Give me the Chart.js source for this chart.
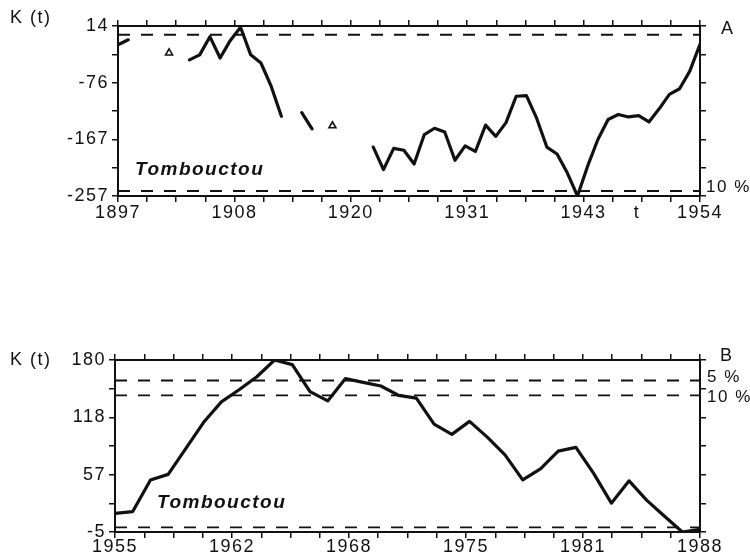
<!DOCTYPE html>
<html>
<head>
<meta charset="utf-8">
<title>Tombouctou K(t)</title>
<script src="https://cdn.jsdelivr.net/npm/chart.js@4.4.1/dist/chart.umd.min.js"></script>
<style>
  body { margin: 0; background: #fff; }
  canvas { position: absolute; left: 0; }
  #chartA { top: 0; }
  #chartB { top: 330px; }
</style>
</head>
<body>
<canvas id="chartA" width="750" height="235"></canvas>
<canvas id="chartB" width="750" height="225"></canvas>
<script>
// Panel A : 1897-1954
const yearsA = [1897, 1898, 1899, 1900, 1901, 1902, 1903, 1904, 1905, 1906,
  1907, 1908, 1909, 1910, 1911, 1912, 1913, 1914, 1915, 1916,
  1917, 1918, 1919, 1920, 1921, 1922, 1923, 1924, 1925, 1926,
  1927, 1928, 1929, 1930, 1931, 1932, 1933, 1934, 1935, 1936,
  1937, 1938, 1939, 1940, 1941, 1942, 1943, 1944, 1945, 1946,
  1947, 1948, 1949, 1950, 1951, 1952, 1953, 1954];
const valuesA = [-16, -8, null, null, null, null, null, -40, -32, -3,
  -37, -9, 12, -32, -45, -82, -130, null, -124, -150,
  null, null, null, null, null, -179, -215, -181, -184, -206,
  -159, -149, -155, -200, -177, -186, -144, -162, -140, -98,
  -97, -133, -179, -190, -220, -257, -209, -167, -135, -127,
  -131, -129, -139, -118, -95, -86, -58, -15];
const triYearsA = [1902, 1918];
const triValuesA = [-29, -145];
const levelsA = [0, -249];
const xLabelsA = ["1897", "1908", "1920", "1931", "1943", "1954"];
const yLabelsA = ["14", "-76", "-167", "-257"];

// Panel B : 1955-1988
const yearsB = [1955, 1956, 1957, 1958, 1959, 1960, 1961, 1962, 1963, 1964,
  1965, 1966, 1967, 1968, 1969, 1970, 1971, 1972, 1973, 1974,
  1975, 1976, 1977, 1978, 1979, 1980, 1981, 1982, 1983, 1984,
  1985, 1986, 1987, 1988];
const valuesB = [15, 17, 51, 57, 85, 113, 135, 148, 162, 180,
  175, 146, 136, 160, 156, 152, 142, 139, 111, 100,
  114, 97, 78, 51, 63, 82, 86, 58, 26, 50,
  29, 12, -5, -2];
const levelsB = [158, 142, 0];
const xLabelsB = ["1955", "1962", "1968", "1975", "1981", "1988"];
const yLabelsB = ["180", "118", "57", "-5"];

const INK = "#111";
const tickFont = { family: "Liberation Sans, Arial, sans-serif", size: 18 };

const spacing = {
  id: "spacing",
  beforeDraw(chart) {
    chart.ctx.letterSpacing = "1.5px";
  },
};

const notes = {
  id: "notes",
  afterDraw(chart, args, opts) {
    const ctx = chart.ctx;
    ctx.save();
    ctx.fillStyle = INK;
    ctx.textBaseline = "middle";
    (opts.items || []).forEach((item) => {
      ctx.font = item.font;
      ctx.textAlign = item.align || "left";
      ctx.fillText(item.text, item.x, item.y);
    });
    ctx.restore();
  },
};

const evenTicks = (min, max, count) =>
  Array.from({ length: count + 1 }, (_, i) => min + (i * (max - min)) / count);

const axisGrid = { drawOnChartArea: false, drawTicks: true, tickLength: 6, color: INK, lineWidth: 1.5 };
const axisBorder = { display: true, color: INK, width: 2 };

const makePanel = (canvas, cfg) => {
  const xTicks = evenTicks(cfg.xMin, cfg.xMax, 20);
  const yTicks = evenTicks(cfg.yMax, cfg.yMin, 6);
  const setX = (scale) => { scale.ticks = xTicks.map((value) => ({ value })); };
  const setY = (scale) => { scale.ticks = yTicks.map((value) => ({ value })); };

  const datasets = [
    {
      type: "line",
      data: cfg.years.map((year, i) => ({ x: year, y: cfg.values[i] })),
      borderColor: INK,
      borderWidth: 3.2,
      pointRadius: 0,
      tension: 0,
      spanGaps: false,
      borderJoinStyle: "round",
      borderCapStyle: "round",
    },
    ...cfg.levels.map((level) => ({
      type: "line",
      data: [{ x: cfg.xMin, y: level }, { x: cfg.xMax, y: level }],
      borderColor: INK,
      borderWidth: 1.9,
      borderDash: [12, 11],
      pointRadius: 0,
    })),
  ];
  if (cfg.triYears) {
    datasets.push({
      type: "scatter",
      data: cfg.triYears.map((year, i) => ({ x: year, y: cfg.triValues[i] })),
      pointStyle: "triangle",
      pointRadius: 4,
      borderColor: INK,
      borderWidth: 1.6,
      backgroundColor: "#fff",
    });
  }

  return new Chart(canvas, {
    type: "line",
    data: { datasets },
    options: {
      responsive: false,
      animation: false,
      layout: { padding: 0 },
      plugins: { legend: { display: false }, tooltip: { enabled: false }, notes: { items: cfg.notes } },
      scales: {
        x: {
          type: "linear", position: "bottom", min: cfg.xMin, max: cfg.xMax,
          afterBuildTicks: setX,
          afterFit: (scale) => { scale.height = cfg.bottomH; },
          grid: axisGrid, border: axisBorder,
          ticks: {
            autoSkip: false, maxRotation: 0, color: INK, font: tickFont, padding: cfg.xPad,
            callback: (value, index) => (index % 4 === 0 ? cfg.xLabels[index / 4] : ""),
          },
        },
        xTop: {
          type: "linear", position: "top", min: cfg.xMin, max: cfg.xMax,
          afterBuildTicks: setX,
          afterFit: (scale) => { scale.height = cfg.topH; },
          grid: axisGrid, border: axisBorder,
          ticks: { display: false },
        },
        y: {
          type: "linear", position: "left", min: cfg.yMin, max: cfg.yMax,
          afterBuildTicks: setY,
          afterFit: (scale) => { scale.width = cfg.leftW; },
          grid: axisGrid, border: axisBorder,
          ticks: {
            autoSkip: false, color: INK, font: tickFont, padding: 3,
            callback: (value, index) => (index % 2 === 0 ? cfg.yLabels[index / 2] : ""),
          },
        },
        yRight: {
          type: "linear", position: "right", min: cfg.yMin, max: cfg.yMax,
          afterBuildTicks: setY,
          afterFit: (scale) => { scale.width = 50; },
          grid: axisGrid, border: axisBorder,
          ticks: { display: false },
        },
      },
    },
    plugins: [spacing, notes],
  });
};

const labelFont = "18px Liberation Sans, Arial, sans-serif";
const sideFont = "17px Liberation Sans, Arial, sans-serif";
const nameFont = "italic bold 19px Liberation Sans, Arial, sans-serif";

makePanel(document.getElementById("chartA"), {
  years: yearsA, values: valuesA, triYears: triYearsA, triValues: triValuesA,
  levels: levelsA, xLabels: xLabelsA, yLabels: yLabelsA,
  xMin: 1897, xMax: 1954, yMin: -257, yMax: 14,
  leftW: 118, topH: 26, bottomH: 39, xPad: 0,
  notes: [
    { text: "K (t)", x: 10, y: 18, font: labelFont },
    { text: "A", x: 721, y: 29, font: labelFont },
    { text: "10 %", x: 706, y: 187, font: sideFont },
    { text: "Tombouctou", x: 135, y: 170, font: nameFont },
    { text: "t", x: 637, y: 213, font: labelFont, align: "center" },
  ],
});

makePanel(document.getElementById("chartB"), {
  years: yearsB, values: valuesB, levels: levelsB, xLabels: xLabelsB, yLabels: yLabelsB,
  xMin: 1955, xMax: 1988, yMin: -5, yMax: 180,
  leftW: 115, topH: 30, bottomH: 23, xPad: -2,
  notes: [
    { text: "K (t)", x: 10, y: 30, font: labelFont },
    { text: "B", x: 720, y: 26, font: labelFont },
    { text: "5 %", x: 707, y: 47, font: sideFont },
    { text: "10 %", x: 707, y: 67, font: sideFont },
    { text: "Tombouctou", x: 157, y: 173, font: nameFont },
  ],
});
</script>
</body>
</html>
